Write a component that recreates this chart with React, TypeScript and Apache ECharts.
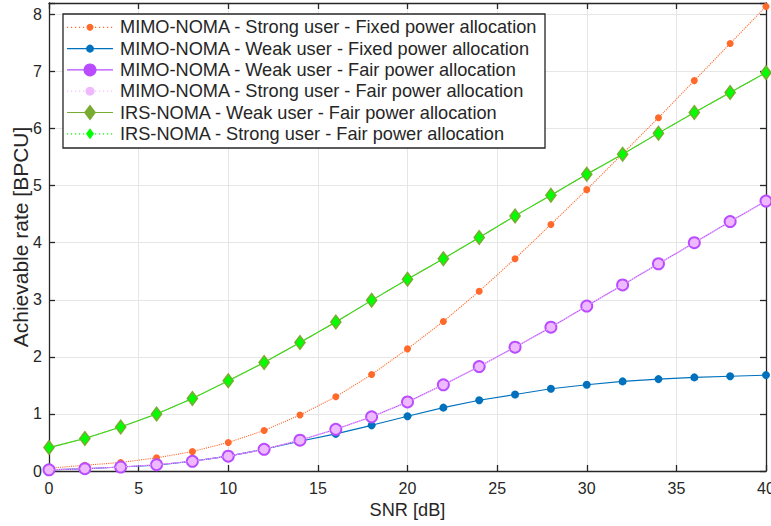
import React, { useEffect, useRef } from "react";
import * as echarts from "echarts";

const snr = [0, 2, 4, 6, 8, 10, 12, 14, 16, 18, 20, 22, 24, 26, 28, 30, 32, 34, 36, 38, 40];
const mimoStrongFixed = [0.05, 0.1, 0.15, 0.23, 0.34, 0.5, 0.71, 0.98, 1.3, 1.69, 2.14, 2.62, 3.15, 3.72, 4.32, 4.93, 5.56, 6.19, 6.84, 7.49, 8.14];
const mimoWeakFixed = [0.02, 0.04, 0.07, 0.1, 0.17, 0.26, 0.38, 0.52, 0.65, 0.8, 0.96, 1.11, 1.24, 1.34, 1.44, 1.51, 1.57, 1.61, 1.64, 1.66, 1.68];
const mimoWeakFair = [0.02, 0.04, 0.07, 0.11, 0.17, 0.26, 0.38, 0.54, 0.73, 0.95, 1.21, 1.51, 1.83, 2.17, 2.52, 2.89, 3.26, 3.63, 4.0, 4.37, 4.73];
const mimoStrongFair = [0.02, 0.04, 0.07, 0.11, 0.17, 0.26, 0.38, 0.54, 0.73, 0.95, 1.21, 1.51, 1.83, 2.17, 2.52, 2.89, 3.26, 3.63, 4.0, 4.37, 4.73];
const irsWeakFair = [0.41, 0.57, 0.77, 1.0, 1.27, 1.58, 1.9, 2.25, 2.61, 2.99, 3.36, 3.72, 4.09, 4.47, 4.83, 5.2, 5.55, 5.92, 6.28, 6.63, 6.98];
const irsStrongFair = [0.41, 0.57, 0.77, 1.0, 1.27, 1.58, 1.9, 2.25, 2.61, 2.99, 3.36, 3.72, 4.09, 4.47, 4.83, 5.2, 5.55, 5.92, 6.28, 6.63, 6.98];

const seriesNames = [
  "MIMO-NOMA - Strong user - Fixed power allocation",
  "MIMO-NOMA - Weak user - Fixed power allocation",
  "MIMO-NOMA - Weak user - Fair power allocation",
  "MIMO-NOMA - Strong user - Fair power allocation",
  "IRS-NOMA - Weak user - Fair power allocation",
  "IRS-NOMA - Strong user - Fair power allocation",
];

const FONT = "'Liberation Sans', Arial, Helvetica, sans-serif";
const AXIS_COLOR = "#262626";

function pairs(vals: number[]) {
  return snr.map((x, i) => [x, vals[i]]);
}

type Look = {
  color: string;
  lineColor: string;
  dotted: boolean;
  symbol: "circle" | "diamond";
  size: [number, number];
};

const looks: Look[] = [
  { color: "#ff6a2b", lineColor: "#ff6a2b", dotted: true, symbol: "circle", size: [7, 7] },
  { color: "#0072bd", lineColor: "#0072bd", dotted: false, symbol: "circle", size: [8, 8] },
  { color: "#b94cff", lineColor: "#b94cff", dotted: false, symbol: "circle", size: [13, 13] },
  { color: "#eeb9ff", lineColor: "#f0bfff", dotted: true, symbol: "circle", size: [9, 9] },
  { color: "#77ac30", lineColor: "#77ac30", dotted: false, symbol: "diamond", size: [12, 16] },
  { color: "#00ff00", lineColor: "#00ff00", dotted: true, symbol: "diamond", size: [8, 11] },
];

function buildLegend() {
  const boxX = 63;
  const boxY = 14;
  const boxW = 482;
  const boxH = 134;
  const rowY0 = 27.3;
  const rowStep = 21.3;
  const lineX1 = 67;
  const lineX2 = 113;
  const markX = 90;
  const textX = 120;
  const Z = 100;
  const els: any[] = [
    {
      type: "rect",
      z: Z,
      shape: { x: boxX, y: boxY, width: boxW, height: boxH },
      style: { fill: "#ffffff", stroke: AXIS_COLOR, lineWidth: 1.3 },
    },
  ];
  seriesNames.forEach((name, i) => {
    const lk = looks[i];
    const y = rowY0 + i * rowStep;
    const lineStyle: any = { stroke: lk.lineColor, lineWidth: 1.2 };
    if (lk.dotted) lineStyle.lineDash = [1.2, 2.8];
    els.push({
      type: "line",
      z: Z + 1,
      shape: { x1: lineX1, y1: y, x2: lineX2, y2: y },
      style: lineStyle,
    });
    const [w, h] = lk.size;
    if (lk.symbol === "circle") {
      els.push({
        type: "circle",
        z: Z + 2,
        shape: { cx: markX, cy: y, r: w / 2 },
        style: { fill: lk.color },
      });
    } else {
      els.push({
        type: "polygon",
        z: Z + 2,
        shape: {
          points: [
            [markX, y - h / 2],
            [markX + w / 2, y],
            [markX, y + h / 2],
            [markX - w / 2, y],
          ],
        },
        style: { fill: lk.color },
      });
    }
    els.push({
      type: "text",
      z: Z + 2,
      x: textX,
      y: y,
      style: {
        text: name,
        fontFamily: FONT,
        fontSize: 18.2,
        fill: AXIS_COLOR,
        verticalAlign: "middle",
        align: "left",
      },
    });
  });
  return els;
}

export default function App() {
  const ref = useRef<HTMLDivElement>(null);
  useEffect(() => {
    if (!ref.current) return;
    const chart = echarts.init(ref.current, undefined, { renderer: "svg" });
    const baseX = { type: "value", min: 0, max: 40, interval: 5 };
    const baseY = { type: "value", min: 0, max: 8.2, interval: 1 };
    const axisLine = { show: true, onZero: false, lineStyle: { color: AXIS_COLOR, width: 1.3 } };
    const axisTick = { show: true, inside: true, length: 6, lineStyle: { color: AXIS_COLOR, width: 1.3 } };
    chart.setOption({
      animation: false,
      backgroundColor: "#ffffff",
      grid: { left: 49, right: 5, top: 3, bottom: 55, containLabel: false, outerBoundsMode: "none" },
      graphic: { elements: buildLegend() },
      xAxis: [
        {
          ...baseX,
          position: "bottom",
          name: "SNR [dB]",
          nameLocation: "middle",
          nameGap: 30,
          nameMoveOverlap: false,
          nameTextStyle: { fontFamily: FONT, fontSize: 18.2, color: AXIS_COLOR },
          axisLine,
          axisTick,
          axisLabel: { fontFamily: FONT, fontSize: 16, color: AXIS_COLOR, margin: 9 },
          splitLine: { show: true, lineStyle: { color: "#e6e6e6", width: 1 } },
        },
        {
          ...baseX,
          position: "top",
          axisLine,
          axisTick,
          axisLabel: { show: false },
          splitLine: { show: false },
        },
      ],
      yAxis: [
        {
          ...baseY,
          position: "left",
          name: "Achievable rate [BPCU]",
          nameLocation: "middle",
          nameGap: 18,
          nameMoveOverlap: false,
          nameTextStyle: { fontFamily: FONT, fontSize: 21, color: AXIS_COLOR },
          axisLine,
          axisTick,
          axisLabel: {
            fontFamily: FONT,
            fontSize: 16,
            color: AXIS_COLOR,
            margin: 7,
            formatter: (v: number) => (Math.abs(v - Math.round(v)) < 1e-9 ? String(Math.round(v)) : ""),
          },
          splitLine: { show: true, lineStyle: { color: "#e6e6e6", width: 1 } },
        },
        {
          ...baseY,
          position: "right",
          axisLine,
          axisTick,
          axisLabel: { show: false },
          splitLine: { show: false },
        },
      ],
      series: [mimoStrongFixed, mimoWeakFixed, mimoWeakFair, mimoStrongFair, irsWeakFair, irsStrongFair].map(
        (vals, i) => {
          const lk = looks[i];
          return {
            name: seriesNames[i],
            type: "line",
            data: pairs(vals),
            symbol: lk.symbol,
            symbolSize: lk.symbol === "circle" ? lk.size[0] : lk.size,
            showAllSymbol: true,
            lineStyle: { color: lk.lineColor, width: 1.1, type: lk.dotted ? "dotted" : "solid" },
            itemStyle: { color: lk.color, borderWidth: 0 },
            z: 2 + i,
          };
        }
      ),
    });
    return () => chart.dispose();
  }, []);
  return (
    <div
      ref={ref}
      style={{ position: "fixed", left: 0, top: 0, width: 771, height: 526, background: "#fff" }}
    />
  );
}
